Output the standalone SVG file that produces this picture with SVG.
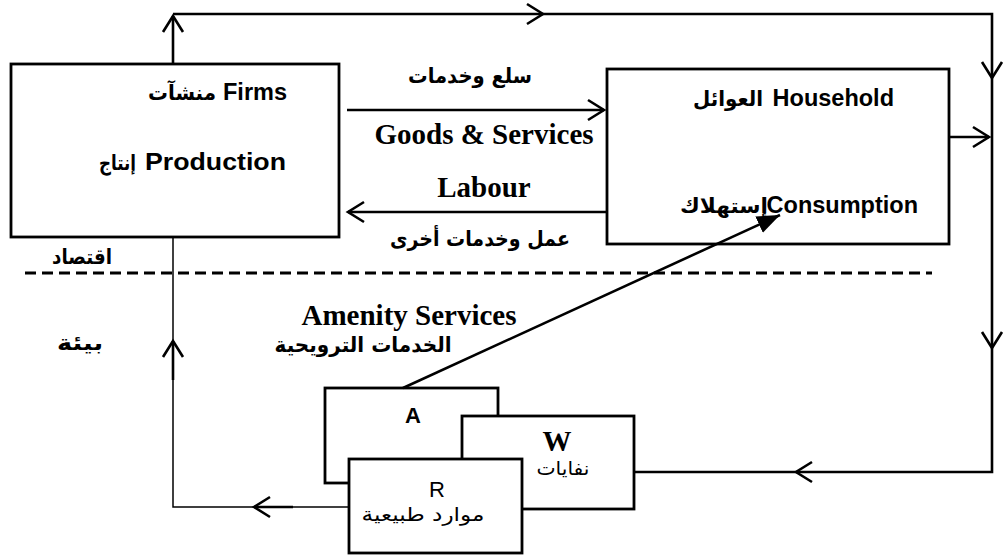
<svg xmlns="http://www.w3.org/2000/svg" width="1005" height="559" viewBox="0 0 1005 559">
<style>
.box{fill:#fff;stroke:#000;stroke-width:2.8}
.ln{fill:none;stroke:#000;stroke-width:2.6}
.thin{fill:none;stroke:#000;stroke-width:1.5}
.en{font-family:"Liberation Sans","DejaVu Sans",sans-serif;font-weight:bold;font-size:23.5px;fill:#000}
.ar{font-family:"DejaVu Sans",sans-serif;font-weight:bold;font-size:21px;fill:#000}
.arr{font-family:"DejaVu Sans",sans-serif;font-size:19px;fill:#000}
.tm{font-family:"Liberation Serif",serif;font-weight:bold;font-size:29px;fill:#000}
.ab{font-family:"Liberation Sans",sans-serif;font-size:22px;fill:#000}
</style>
<defs>
<marker id="open" markerUnits="userSpaceOnUse" markerWidth="22" markerHeight="24" viewBox="0 0 22 24" refX="18" refY="12" orient="auto">
<path d="M2,2 L18,12 L2,22" fill="none" stroke="#000" stroke-width="2.6"/>
</marker>
<marker id="solid" markerUnits="userSpaceOnUse" markerWidth="24" markerHeight="20" viewBox="0 0 24 20" refX="23" refY="10" orient="auto">
<path d="M0,1 L23,10 L0,19 z" fill="#000"/>
</marker>
</defs>

<g id="firms">
<rect class="box" x="11" y="64" width="328" height="173"/>
<text class="en" x="287" y="100" text-anchor="end">Firms</text>
<text class="ar" x="216" y="100" text-anchor="end" textLength="68" lengthAdjust="spacingAndGlyphs">منشآت</text>
<text class="en" x="286" y="170" text-anchor="end" font-size="25" textLength="141" lengthAdjust="spacingAndGlyphs">Production</text>
<text class="ar" x="136" y="170" text-anchor="end" textLength="37" lengthAdjust="spacingAndGlyphs">إنتاج</text>
</g>

<g id="household">
<rect class="box" x="607" y="69" width="342" height="175"/>
<text class="en" x="894" y="106" text-anchor="end">Household</text>
<text class="ar" x="763" y="106" text-anchor="end" textLength="70" lengthAdjust="spacingAndGlyphs">العوائل</text>
<text class="en" x="918" y="213" text-anchor="end">Consumption</text>
<text class="ar" x="768" y="213" text-anchor="end" textLength="88" lengthAdjust="spacingAndGlyphs">إستهلاك</text>
</g>

<g id="flow-labels">
<text class="ar" x="470" y="83" text-anchor="middle" textLength="124" lengthAdjust="spacingAndGlyphs">سلع وخدمات</text>
<text class="tm" x="484" y="144" text-anchor="middle">Goods &amp; Services</text>
<text class="tm" x="484" y="197" text-anchor="middle">Labour</text>
<text class="ar" x="480" y="246" text-anchor="middle" textLength="180" lengthAdjust="spacingAndGlyphs">عمل وخدمات أخرى</text>
<text class="tm" x="409" y="325" text-anchor="middle">Amenity Services</text>
<text class="ar" x="363" y="352" text-anchor="middle" textLength="177" lengthAdjust="spacingAndGlyphs">الخدمات الترويحية</text>
<text class="ar" x="82" y="264" text-anchor="middle" textLength="60" lengthAdjust="spacingAndGlyphs">اقتصاد</text>
<text class="ar" x="80" y="350" text-anchor="middle" textLength="46" lengthAdjust="spacingAndGlyphs">بيئة</text>
</g>

<g id="amenity">
<rect class="box" x="325" y="388" width="173" height="95"/>
<text class="ab" x="413" y="423" text-anchor="middle" font-weight="bold">A</text>
</g>

<g id="waste">
<rect class="box" x="462" y="416" width="172" height="93"/>
<text class="tm" x="557" y="451" text-anchor="middle" font-size="28">W</text>
<text class="arr" x="563" y="475" text-anchor="middle" font-size="18" textLength="53" lengthAdjust="spacingAndGlyphs">نفايات</text>
</g>

<g id="resources">
<rect class="box" x="349" y="459" width="173" height="94"/>
<text class="ab" x="437" y="497" text-anchor="middle">R</text>
<text class="arr" x="423" y="521" text-anchor="middle" textLength="123" lengthAdjust="spacingAndGlyphs">موارد طبيعية</text>
</g>

<g id="connectors">
<path class="ln" d="M173,64 L173,16" marker-end="url(#open)"/>
<path class="ln" d="M173,14 L543,14" marker-end="url(#open)"/>
<path class="ln" d="M543,14 L992,14 L992,78" marker-end="url(#open)"/>
<path class="ln" d="M992,78 L992,348" marker-end="url(#open)"/>
<path class="ln" d="M992,348 L992,472 L796,472" marker-end="url(#open)"/>
<path class="ln" d="M796,472 L634,472"/>
<path class="ln" d="M949,137 L989,137" marker-end="url(#open)"/>
<path class="ln" d="M347,110 L604,110" marker-end="url(#open)"/>
<path class="ln" d="M607,212 L348,212" marker-end="url(#open)"/>
<path class="thin" d="M349,507 L293,507"/>
<path class="ln" d="M293,507 L254,507" marker-end="url(#open)"/>
<path class="thin" d="M254,507 L173,507 L173,380"/>
<path class="ln" d="M173,380 L173,341" marker-end="url(#open)"/>
<path class="thin" d="M173,341 L173,237"/>
<path class="ln" d="M403,388 L780,215" marker-end="url(#solid)"/>
<path d="M25,273 L932,273" fill="none" stroke="#000" stroke-width="3" stroke-dasharray="11 6"/>
</g>
</svg>
